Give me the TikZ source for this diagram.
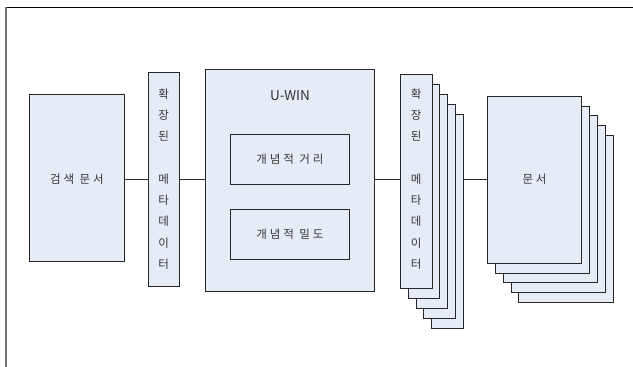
\documentclass[tikz,border=0pt]{standalone}
\usepackage{fontspec}
\setmainfont{Noto Sans CJK KR}
\newfontfamily\krspaced[LetterSpace=25]{Noto Sans CJK KR}
\definecolor{boxfill}{HTML}{E6ECF6}
\definecolor{framegray}{HTML}{707070}
\tikzset{
  box/.style={draw=black!85, fill=boxfill, line width=0.9pt, inner sep=0pt, outer sep=0pt},
  lbl/.style={font=\krspaced\fontsize{11.5}{21.3}\selectfont, text=black!80, inner sep=0pt, align=center},
  conn/.style={draw=black!85, line width=0.9pt}
}
\begin{document}
\begin{tikzpicture}[x=1pt,y=-1pt]
\useasboundingbox (0,0) rectangle (633,367);
% frame
\draw[black, line width=1pt] (6,7.3) -- (633,7.3);
\draw[framegray, line width=1.4pt] (6,7.3) -- (6,367);
\coordinate (axis) at (0,179);
% search document
\node[box, minimum width=94.8pt, minimum height=166.7pt] (doc1) at (76.9,177.7) {};
\node[lbl] (doc1t) at (doc1.center |- axis) {검색 문서};
% metadata bar 1
\node[box, minimum width=31.1pt, minimum height=214pt] (meta1) at (163.75,179) {};
\node[lbl] (meta1t) at (meta1.center |- axis) {확\\장\\된\\[21.3pt]메\\타\\데\\이\\터};
% U-WIN
\node[box, minimum width=169.6pt, minimum height=221.7pt] (uwin) at (289.8,180.2) {};
\node[lbl, font=\fontsize{13.5}{16}\selectfont] (uwint) at (290,96) {U-WIN};
\node[box, minimum width=118.7pt, minimum height=49.7pt] (in1) at (289.85,159.2) {};
\node[lbl] (in1t) at (in1.center) {개념적 거리};
\node[box, minimum width=118.7pt, minimum height=50pt] (in2) at (289.85,234) {};
\node[lbl] (in2t) at (in2.center) {개념적 밀도};
% metadata stack
\foreach \k in {4,3,2,1}{
  \node[box, minimum width=31.5pt, minimum height=214pt] (ms\k) at ({416.25+7.8*\k},{181.3+10*\k}) {};
}
\node[box, minimum width=31.5pt, minimum height=214pt] (ms0) at (416.25,181.3) {};
\node[lbl] (ms0t) at (ms0.center |- axis) {확\\장\\된\\[21.3pt]메\\타\\데\\이\\터};
% document stack
\foreach \k in {4,3,2,1}{
  \node[box, minimum width=94.5pt, minimum height=167pt] (ds\k) at ({534.55+7.9*\k},{179.8+9.7*\k}) {};
}
\node[box, minimum width=94.5pt, minimum height=167pt] (ds0) at (534.55,179.8) {};
\node[lbl] (ds0t) at (ds0.center |- axis) {문서};
% connectors
\draw[conn] (doc1.east |- axis) -- (meta1.west |- axis);
\draw[conn] (meta1.east |- axis) -- (uwin.west |- axis);
\draw[conn] (uwin.east |- axis) -- (ms0.west |- axis);
\draw[conn] (ms4.east |- axis) -- (ds0.west |- axis);
\end{tikzpicture}
\end{document}
